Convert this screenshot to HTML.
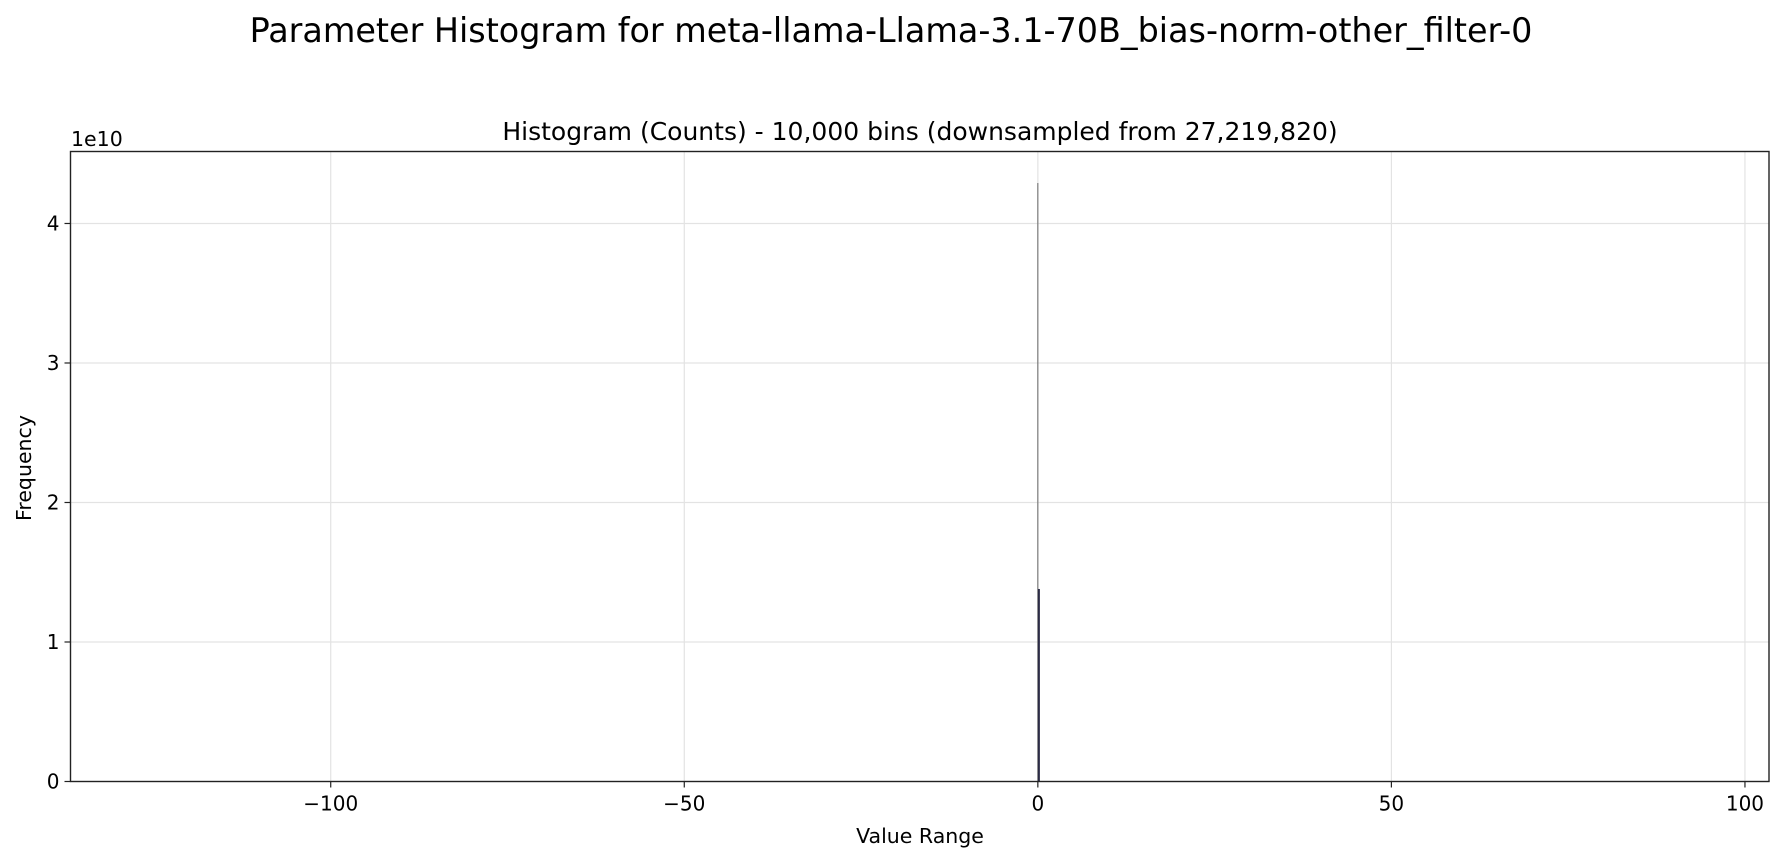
<!DOCTYPE html>
<html><head><meta charset="utf-8">
<style>
html,body{margin:0;padding:0;background:#fff;}
svg{display:block;font-family:"DejaVu Sans","Liberation Sans",sans-serif;}
</style></head>
<body>
<svg id="chart" width="1783" height="860" viewBox="0 0 1783 860">
<text x="891" y="42" text-anchor="middle" font-size="33.4" fill="#000">Parameter Histogram for meta-llama-Llama-3.1-70B_bias-norm-other_filter-0</text>
<text x="920" y="140" text-anchor="middle" font-size="25" fill="#000">Histogram (Counts) - 10,000 bins (downsampled from 27,219,820)</text>
<g id="grid"></g>
<g id="bars"></g>
<rect x="70.5" y="151.5" width="1698.5" height="630" fill="none" stroke="#222" stroke-width="1.4"/>
<g id="xticks"></g>
<g id="yticks"></g>
<text x="71" y="146" font-size="20.5" fill="#000">1e10</text>
<text x="920" y="843" text-anchor="middle" font-size="20.5" fill="#000">Value Range</text>
<text x="31" y="468" text-anchor="middle" font-size="20.5" fill="#000" transform="rotate(-90 31 468)">Frequency</text>
</svg>
<script>
const binCenters = [0.0, 0.15];
const binCounts = [4.29, 1.38];
const binWidths = [0.14, 0.28];
const binColors = ["#666666", "#2b2b45"];
const xTickValues = [-100, -50, 0, 50, 100];
const xTickLabels = ["\u2212100", "\u221250", "0", "50", "100"];
const yTickValues = [0, 1, 2, 3, 4];
const yTickLabels = ["0", "1", "2", "3", "4"];

const L=70.5,R=1769,T=151.5,B=781.5;
const xMin=-136.8,xMax=103.4,yMin=0,yMax=4.516;
function sx(v){return L+(v-xMin)/(xMax-xMin)*(R-L);}
function sy(v){return B-(v-yMin)/(yMax-yMin)*(B-T);}
const NS="http://www.w3.org/2000/svg";
function mk(tag,attrs,parent){const e=document.createElementNS(NS,tag);for(const k in attrs)e.setAttribute(k,attrs[k]);parent.appendChild(e);return e;}
const grid=document.getElementById('grid'),bars=document.getElementById('bars'),xt=document.getElementById('xticks'),yt=document.getElementById('yticks');
xTickValues.forEach((v,i)=>{
  const x=sx(v);
  const g=mk('line',{x1:x,x2:x,y1:T,y2:B,stroke:'#e3e3e3','stroke-width':1.2},grid);
  
  
  const t=mk('line',{x1:x,x2:x,y1:B,y2:B+6,stroke:'#222','stroke-width':1.2},xt);
  
  
  const l=mk('text',{x:x,y:B+29,'text-anchor':'middle','font-size':20,fill:'#000'},xt);
  l.textContent=xTickLabels[i];
  
  
});
yTickValues.forEach((v,i)=>{
  const y=sy(v);
  if(v>0){const g=mk('line',{x1:L,x2:R,y1:y,y2:y,stroke:'#e3e3e3','stroke-width':1.2},grid);
  
  }
  const t=mk('line',{x1:L-6,x2:L,y1:y,y2:y,stroke:'#222','stroke-width':1.2},yt);
  
  
  const l=mk('text',{x:L-11,y:y+7,'text-anchor':'end','font-size':20,fill:'#000'},yt);
  l.textContent=yTickLabels[i];
  
  
});
binCenters.forEach((c,i)=>{
  const x0=sx(c-binWidths[i]/2),x1=sx(c+binWidths[i]/2);
  const y=sy(binCounts[i]);
  const r=mk('rect',{x:x0,y:y,width:Math.max(1,x1-x0),height:B-y,fill:binColors[i]},bars);
  
  
});
</script>
</body></html>
